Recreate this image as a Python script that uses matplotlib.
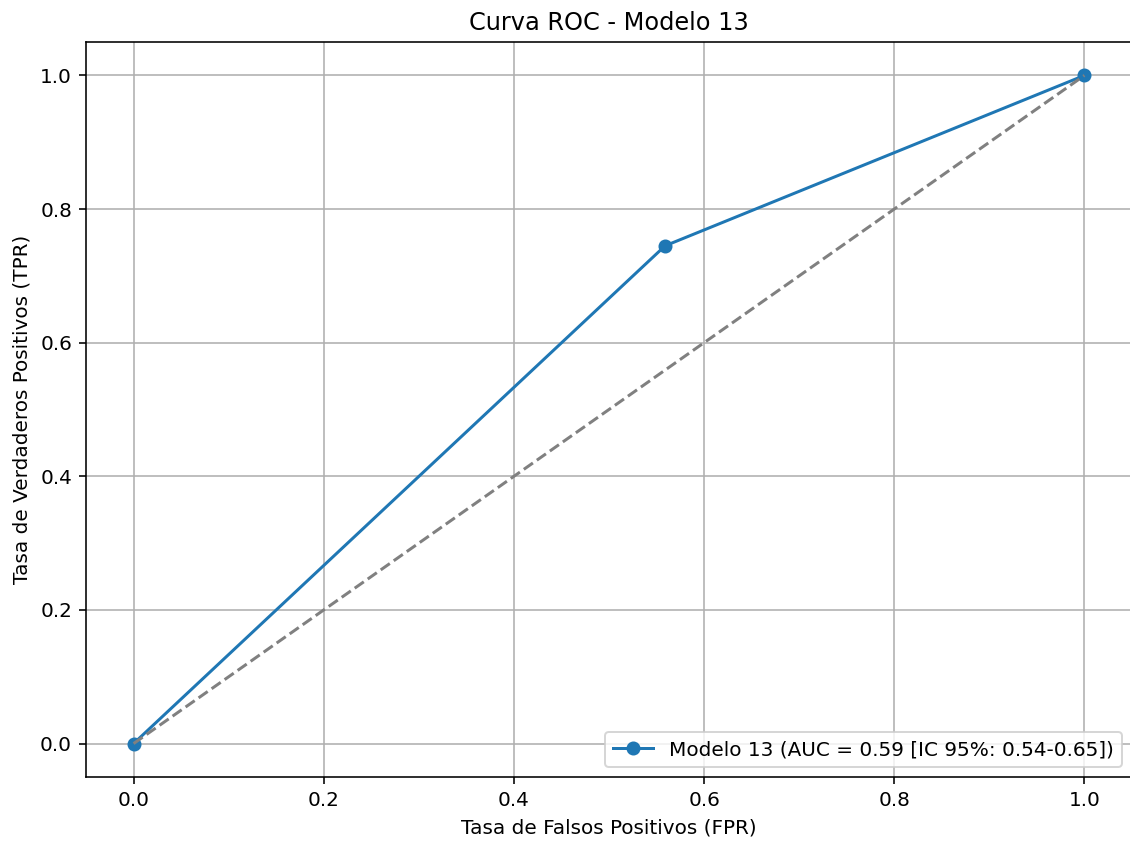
import matplotlib
matplotlib.use("Agg")
import matplotlib.pyplot as plt

fpr = [0.0, 0.559, 1.0]
tpr = [0.0, 0.745, 1.0]
diag_x = [0, 1]
diag_y = [0, 1]
model_label = "Modelo 13 (AUC = 0.59 [IC 95%: 0.54-0.65])"

dpi = 144
fig = plt.figure(figsize=(1130 / dpi, 843 / dpi), dpi=dpi)
ax = fig.add_axes([86 / 1130, 66 / 843, 1046 / 1130, 735 / 843])
ax.plot(fpr, tpr, marker="o", label=model_label)
ax.plot(diag_x, diag_y, linestyle="--", color="gray")
ax.set_xlabel("Tasa de Falsos Positivos (FPR)")
ax.set_ylabel("Tasa de Verdaderos Positivos (TPR)")
ax.set_title("Curva ROC - Modelo 13")
ax.legend(loc="lower right")
ax.grid(True)
fig.savefig("out.png", dpi=dpi)
